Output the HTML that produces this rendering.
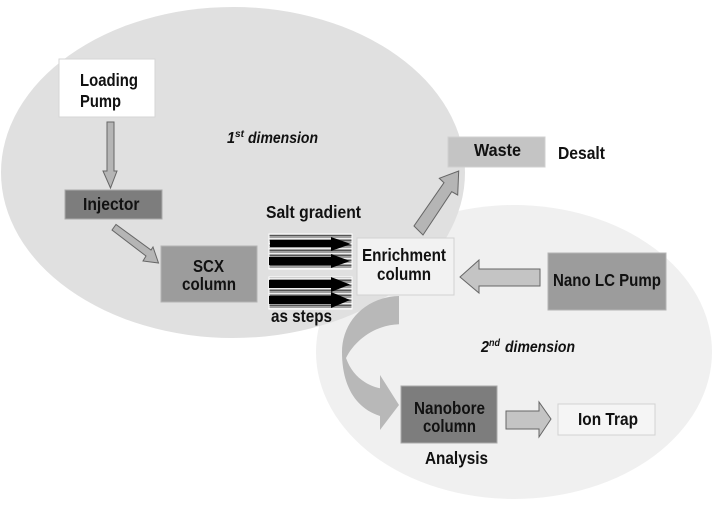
<!DOCTYPE html>
<html>
<head>
<meta charset="utf-8">
<style>
html,body{margin:0;padding:0;background:#fff;width:720px;height:509px;overflow:hidden}
svg{display:block}
text{font-family:"Liberation Sans",sans-serif;font-weight:700;font-size:17.5px;fill:#111}
.i{font-style:italic;font-size:16px}
.s{font-size:10.5px}
.arr{fill:#b5b5b5;stroke:#666;stroke-width:1}
</style>
</head>
<body>
<svg width="720" height="509" viewBox="0 0 720 509" xmlns="http://www.w3.org/2000/svg">
<defs>
<pattern id="st" width="6" height="5" patternUnits="userSpaceOnUse">
<rect width="6" height="5" fill="#a0a0a0"/>
<rect y="0" width="6" height="1" fill="#555"/>
<rect y="3" width="6" height="1" fill="#eee"/>
</pattern>
</defs>
<ellipse cx="514" cy="352" rx="198" ry="147" fill="#f0f0f0"/>
<ellipse cx="233" cy="172.5" rx="232" ry="165.5" fill="#e0e0e0"/>

<!-- boxes -->
<rect x="59" y="59" width="96" height="58" fill="#fff" stroke="#d6d6d6"/>
<rect x="65" y="190" width="97" height="29" fill="#7d7d7d" stroke="#aaa"/>
<rect x="161" y="246" width="96" height="56" fill="#9c9c9c" stroke="#b4b4b4"/>
<rect x="448" y="137" width="97" height="30" fill="#c4c4c4" stroke="#d0d0d0"/>
<rect x="357" y="238" width="97" height="57" fill="#f2f2f2" stroke="#d2d2d2"/>
<rect x="548" y="253" width="118" height="57" fill="#9c9c9c" stroke="#b4b4b4"/>
<rect x="401" y="386" width="96" height="57" fill="#7d7d7d" stroke="#aaa"/>
<rect x="558" y="404" width="97" height="31" fill="#f5f5f5" stroke="#d2d2d2"/>

<!-- striped blocks -->
<rect x="269" y="234" width="83" height="35" fill="url(#st)" stroke="#fff"/>
<rect x="269" y="277" width="83" height="32" fill="url(#st)" stroke="#fff"/>
<polygon fill="#000" points="270,240 331,240 331,237 351,244 331,251 331,247 270,247"/>
<polygon fill="#000" points="269,257 331,257 331,254 350,261 331,268 331,265 269,265"/>
<polygon fill="#000" points="269,280 331,280 331,277 350,284.5 331,292 331,288 269,288"/>
<polygon fill="#000" points="269,296 331,296 331,292 350,300 331,308 331,304 269,304"/>

<!-- arrows -->
<polygon class="arr" points="107,122 114,122 114,171 117,171 110.5,188 103,171 107,171"/>
<polygon class="arr" points="112,230 116,224.5 151,250 153,247 158.5,263 143,261 146,256"/>
<polygon class="arr" points="414,226 423,235 451.7,191.7 457.7,195 458.7,171 439.3,178.3 444,182.7"/>
<polygon fill="#c4c4c4" stroke="#666" points="460,277 479,260 479,269 540,269 540,286 479,286 479,293"/>
<polygon fill="#c4c4c4" stroke="#666" points="506,411 539,411 539,402 551,419 539,437 539,429 506,429"/>
<path fill="#b8b8b8" d="M399,296 L399,324.3 C375,325 355,340 346,358 C352,375 365,385 380,388.3 L380,375 L399,405 L380,430 L380,416 C355,408 342,385 342,352 C342,322 365,297 399,296 Z"/>

<!-- labels -->
<text x="80" y="86" textLength="58" lengthAdjust="spacingAndGlyphs">Loading</text>
<text x="80" y="107" textLength="41" lengthAdjust="spacingAndGlyphs">Pump</text>
<text x="83" y="210" textLength="56.5" lengthAdjust="spacingAndGlyphs">Injector</text>
<text x="193" y="272" textLength="31" lengthAdjust="spacingAndGlyphs">SCX</text>
<text x="182" y="290" textLength="54" lengthAdjust="spacingAndGlyphs">column</text>
<text x="266" y="218" textLength="95" lengthAdjust="spacingAndGlyphs">Salt gradient</text>
<text x="362" y="261" textLength="84" lengthAdjust="spacingAndGlyphs">Enrichment</text>
<text x="377" y="280" textLength="54" lengthAdjust="spacingAndGlyphs">column</text>
<text x="271" y="322" textLength="61" lengthAdjust="spacingAndGlyphs">as steps</text>
<text x="474" y="156" textLength="47" lengthAdjust="spacingAndGlyphs">Waste</text>
<text x="558" y="159" textLength="47" lengthAdjust="spacingAndGlyphs">Desalt</text>
<text x="553" y="286" textLength="108" lengthAdjust="spacingAndGlyphs">Nano LC Pump</text>
<text x="414" y="414" textLength="71" lengthAdjust="spacingAndGlyphs">Nanobore</text>
<text x="423" y="432" textLength="53" lengthAdjust="spacingAndGlyphs">column</text>
<text x="578" y="425" textLength="60" lengthAdjust="spacingAndGlyphs">Ion Trap</text>
<text x="425" y="464" textLength="63" lengthAdjust="spacingAndGlyphs">Analysis</text>

<text class="i" x="227" y="143" textLength="8" lengthAdjust="spacingAndGlyphs">1</text>
<text class="i s" x="235" y="137" textLength="9" lengthAdjust="spacingAndGlyphs">st</text>
<text class="i" x="248" y="143" textLength="70" lengthAdjust="spacingAndGlyphs">dimension</text>
<text class="i" x="481" y="352" textLength="8" lengthAdjust="spacingAndGlyphs">2</text>
<text class="i s" x="489" y="346" textLength="11" lengthAdjust="spacingAndGlyphs">nd</text>
<text class="i" x="505" y="352" textLength="70" lengthAdjust="spacingAndGlyphs">dimension</text>
</svg>
</body>
</html>
